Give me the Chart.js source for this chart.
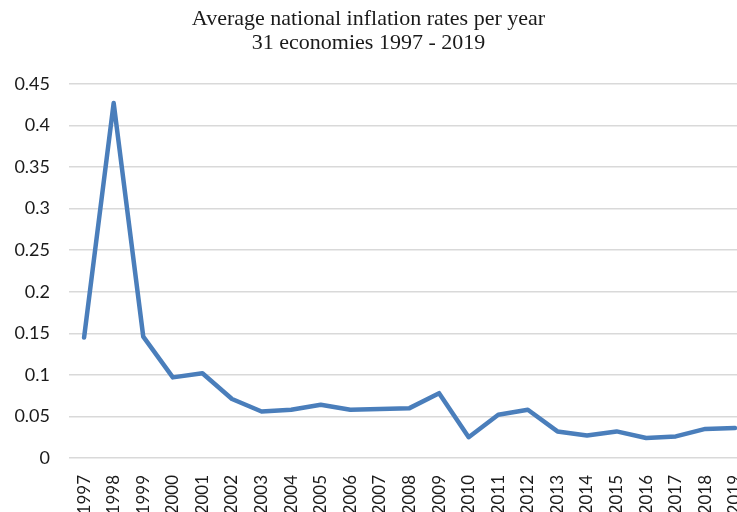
<!DOCTYPE html>
<html>
<head>
<meta charset="utf-8">
<style>
  body { margin: 0; background: #fff; }
  #wrap { width: 737px; height: 512px; position: relative; }
</style>
<script src="https://cdn.jsdelivr.net/npm/chart.js@4.4.1/dist/chart.umd.min.js"></script>
</head>
<body>
<div id="wrap"><canvas id="chart"></canvas></div>
<script>
// роки та середня інфляція
const years = [1997, 1998, 1999, 2000, 2001, 2002, 2003, 2004, 2005, 2006, 2007, 2008,
               2009, 2010, 2011, 2012, 2013, 2014, 2015, 2016, 2017, 2018, 2019];
const inflation = [0.145, 0.427, 0.146, 0.097, 0.102, 0.071, 0.056, 0.058, 0.064, 0.058, 0.059, 0.060,
                   0.078, 0.025, 0.052, 0.058, 0.032, 0.027, 0.032, 0.024, 0.026, 0.035, 0.036];
const yTicks = [0, 0.05, 0.1, 0.15, 0.2, 0.25, 0.3, 0.35, 0.4, 0.45];
const titleLines = ['Average national inflation rates per year', '31 economies 1997 - 2019'];

const points = years.map((y, i) => ({ x: y, y: inflation[i] }));

const ctx = document.getElementById('chart').getContext('2d');
const chart = new Chart(ctx, {
    type: 'line',
    data: {
        datasets: [{
            data: points,
            borderColor: '#4a7ebb',
            borderWidth: 4.5,
            borderJoinStyle: 'round',
            borderCapStyle: 'round',
            pointRadius: 0,
            tension: 0,
            fill: false
        }]
    },
    options: {
        responsive: true,
        maintainAspectRatio: false,
        animation: false,
        layout: { padding: { left: 0, right: 0, top: 0, bottom: 0 } },
        plugins: {
            legend: { display: false },
            tooltip: { enabled: false },
            title: {
                display: true,
                text: titleLines,
                color: '#1a1a1a',
                font: { family: '"Liberation Serif", "Times New Roman", serif', size: 22, weight: 'normal', lineHeight: 1.09 },
                padding: { top: 7, bottom: 29 }
            }
        },
        scales: {
            x: {
                type: 'linear',
                min: 1996.49,
                max: 2019.07,
                grid: { display: false },
                border: { display: false },
                ticks: {
                    stepSize: 1,
                    includeBounds: false,
                    autoSkip: false,
                    maxRotation: 90,
                    minRotation: 90,
                    padding: 9,
                    color: '#1a1a1a',
                    font: { family: 'Lato, "Open Sans", sans-serif', size: 17 },
                    callback: v => String(v)
                },
                afterFit: s => { s.height = 54; s.paddingLeft = 0; s.paddingRight = 0; }
            },
            y: {
                min: 0,
                max: 0.45,
                grid: { color: '#d9d9d9', lineWidth: 1.5, drawTicks: false },
                border: { display: false },
                afterBuildTicks: s => { s.ticks = yTicks.map(v => ({ value: v })); },
                ticks: {
                    padding: 19,
                    color: '#1a1a1a',
                    font: { family: 'Lato, "Open Sans", sans-serif', size: 18 },
                    callback: v => String(+v.toFixed(2))
                },
                afterFit: s => { s.width = 69; }
            }
        }
    }
});
</script>
</body>
</html>
